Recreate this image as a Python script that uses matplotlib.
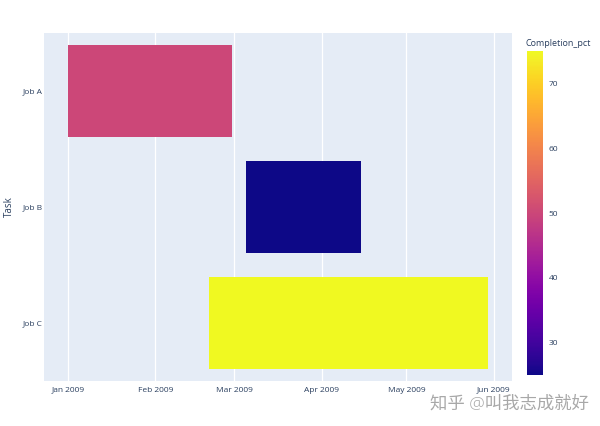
import matplotlib
matplotlib.use("Agg")
import matplotlib.pyplot as plt
import matplotlib.dates as mdates
from matplotlib.colors import Normalize
from matplotlib.cm import ScalarMappable
import numpy as np
import datetime as dt

tasks = ["Job A", "Job B", "Job C"]
starts = ["2009-01-01", "2009-03-05", "2009-02-20"]
finishes = ["2009-02-28", "2009-04-15", "2009-05-30"]
completion = [50, 25, 75]
x_ticks = ["2009-01-01", "2009-02-01", "2009-03-01", "2009-04-01", "2009-05-01", "2009-06-01"]
x_tick_labels = ["Jan 2009", "Feb 2009", "Mar 2009", "Apr 2009", "May 2009", "Jun 2009"]
cbar_ticks = [30, 40, 50, 60, 70]

plt.rcParams['font.family'] = ['Open Sans', 'Noto Sans CJK SC', 'DejaVu Sans']
txt = "#2a3f5f"

fig = plt.figure(figsize=(6, 4.26), dpi=100)
W, H = 600, 426
ax = fig.add_axes([44 / W, 1 - 381 / H, (512 - 44) / W, (381 - 33) / H])
ax.set_facecolor("#e5ecf6")
for s in ax.spines.values():
    s.set_visible(False)

cmap = plt.get_cmap("plasma")
norm = Normalize(vmin=25, vmax=75)

d = lambda s: mdates.date2num(dt.datetime.strptime(s, "%Y-%m-%d"))
for i, (t, s, f, c) in enumerate(zip(tasks, starts, finishes, completion)):
    ax.barh(i, d(f) - d(s), left=d(s), height=0.8, color=cmap(norm(c)), zorder=2)

ax.set_ylim(2.5, -0.5)
ax.set_yticks(range(len(tasks)))
ax.set_yticklabels(tasks)
ax.set_xlim(d("2009-01-01") - 8.5, d("2009-06-01") + 6.4)
ax.set_xticks([d(x) for x in x_ticks])
ax.set_xticklabels(x_tick_labels)
ax.grid(axis="x", color="white", linewidth=0.9, zorder=1)
ax.set_axisbelow(True)
ax.tick_params(axis="x", length=0, labelsize=6, colors=txt, pad=4)
ax.tick_params(axis="y", length=0, labelsize=6, colors=txt, pad=1)
ax.set_ylabel("Task", fontsize=7, color=txt)
ax.yaxis.set_label_coords(-29 / 468, 0.5)

cax = fig.add_axes([527 / W, 1 - 375 / H, 16 / W, (375 - 51) / H])
sm = ScalarMappable(norm=norm, cmap=cmap)
cb = fig.colorbar(sm, cax=cax, ticks=cbar_ticks)
cb.outline.set_visible(False)
cax.tick_params(length=0, labelsize=6, colors=txt, pad=4)
fig.text(525 / W, 1 - 44 / H, "Completion_pct", fontsize=6.5, color=txt, ha="left", va="center")

fig.text(589 / W, 1 - 404 / H, "知乎 @叫我志成就好", fontsize=12.5, color="#a8a8a8",
         ha="right", va="center", fontweight="light")

fig.savefig("out.png", dpi=100, facecolor="white")
